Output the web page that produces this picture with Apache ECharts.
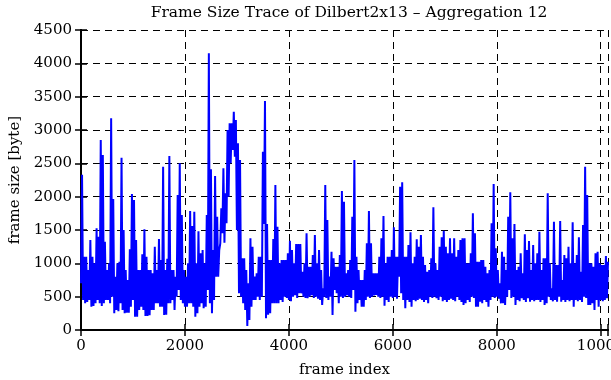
<!DOCTYPE html>
<html>
<head>
<meta charset="utf-8">
<script src="https://cdn.jsdelivr.net/npm/echarts@6/dist/echarts.min.js"></script>
<style>
html,body{margin:0;padding:0;background:#fff;}
#chart{width:611px;height:380px;}
</style>
</head>
<body>
<div id="chart"></div>
<script>
// Trace: for every block of BLOCK frames, the smallest
// (blockLow) and the largest (blockHigh) frame size in bytes seen in that block.
const BLOCK = 40;
const blockHigh = [
  2330,1100,1100,900,1350,1100,1000,1525,1400,2850,
  2625,1325,900,1000,3175,1965,800,1000,1025,2585,
  1500,900,750,1210,2040,1950,1350,900,900,1135,
  1510,1100,900,900,850,1250,900,1365,1050,2450,
  900,1070,2610,900,900,800,2025,2500,1725,900,
  800,1000,1785,1560,1775,1000,1480,1150,1200,1000,
  1725,4150,2410,1200,2310,1700,1200,1825,2425,2050,
  3000,3100,3100,3275,3150,2800,2550,1075,1075,900,
  700,1375,1250,800,850,1100,1100,2675,3435,1590,
  1050,1050,1365,2175,1550,1000,1050,1050,1050,1150,
  1340,1200,1000,1290,1290,1290,875,1000,1450,950,
  950,1125,1425,1000,1200,900,625,2175,1650,800,
  1175,1075,950,950,1125,2085,1925,850,900,1050,
  1700,2550,1100,900,750,750,900,1300,1785,1300,
  850,850,850,1100,1375,1710,1000,1100,1100,1200,
  1540,1100,1100,2150,2215,1100,1100,1275,1465,1000,
  1100,1360,1250,1425,1100,975,875,900,1075,1840,
  1000,900,1250,1390,1490,1250,1150,1375,1150,1375,
  1100,1200,1350,1375,1375,1000,1000,1150,1750,1450,
  1025,1025,1050,1050,950,850,900,1600,2190,1225,
  900,700,1175,1100,900,1700,2065,1375,1590,900,
  950,1150,850,1435,1200,1335,900,1275,1000,1150,
  1475,900,1075,1075,2050,1000,625,1625,975,975,
  1635,750,1125,1075,1250,1000,1615,1000,1125,1390,
  875,1575,2450,2025,1000,1000,950,1150,1175,1000,
  975,975,1110,1025
];
const blockLow = [
  700,450,400,420,450,350,360,400,450,400,
  360,400,450,450,400,500,250,300,280,400,
  300,250,260,260,350,450,200,200,300,350,
  300,210,210,220,300,300,400,400,350,350,
  225,230,400,400,450,300,500,600,450,400,
  350,350,400,400,350,200,250,350,400,325,
  350,600,400,250,450,800,800,1300,1450,1310,
  1600,2000,2500,2700,2600,1500,550,500,400,300,
  60,150,350,450,450,500,450,500,1590,175,
  230,250,400,400,400,400,450,420,500,480,
  450,430,500,520,480,550,550,500,480,475,
  500,520,480,500,470,450,375,500,480,450,
  500,225,600,550,400,500,480,500,520,500,
  480,600,275,400,450,350,350,450,500,480,
  500,520,525,500,480,500,365,450,420,500,
  480,500,470,800,550,450,325,450,420,350,
  450,430,450,470,450,420,450,400,500,480,
  500,475,450,500,430,450,420,450,470,450,
  430,500,450,420,375,400,450,420,500,480,
  350,350,425,400,450,420,350,450,500,480,
  500,470,400,400,375,500,600,480,500,375,
  450,430,475,450,420,475,425,450,430,450,
  450,420,450,375,400,500,450,430,450,425,
  500,425,450,420,450,430,450,350,450,430,
  450,420,500,480,375,375,400,300,450,350,
  450,430,450,475
];
const xTicks = [0, 2000, 4000, 6000, 8000, 10000];
const yTicks = [0, 500, 1000, 1500, 2000, 2500, 3000, 3500, 4000, 4500];
const X_MAX = 10140;
const titleText = 'Frame Size Trace of Dilbert2x13 \u2013 Aggregation 12';
const xName = 'frame index';
const yName = 'frame size [byte]';

const seriesData = [];
blockLow.forEach((lo, i) => {
  seriesData.push([i * BLOCK, lo]);
  seriesData.push([i * BLOCK + BLOCK / 2, blockHigh[i]]);
});

const FONT = '"DejaVu Serif", "Liberation Serif", serif';
const FS = 15;
const dash = { color: '#000', width: 1, type: [7, 5] };
const border = { show: true, lineStyle: { color: '#000', width: 2 } };
const tick = { show: true, inside: true, length: 6, lineStyle: { color: '#000', width: 1.5 } };

const chart = echarts.init(document.getElementById('chart'), null, { renderer: 'canvas' });
chart.setOption({
  animation: false,
  backgroundColor: '#fff',
  title: {
    text: titleText, left: 344, top: 0, textAlign: 'center',
    textStyle: { fontFamily: FONT, fontSize: 15.5, fontWeight: 'normal', color: '#000' }
  },
  grid: { left: 81, right: 3, top: 30, bottom: 50, containLabel: false, outerBoundsMode: 'none' },
  xAxis: [{
    type: 'value', min: 0, max: X_MAX, interval: 2000, position: 'bottom',
    axisLine: border, axisTick: tick,
    axisLabel: {
      fontFamily: FONT, fontSize: FS, color: '#000', margin: 9, hideOverlap: false,
      formatter: v => (xTicks.indexOf(v) >= 0 ? String(v) : '')
    },
    splitLine: { show: true, lineStyle: dash },
    name: xName, nameLocation: 'middle', nameGap: 33,
    nameTextStyle: { fontFamily: FONT, fontSize: FS, color: '#000' }
  }, {
    type: 'value', min: 0, max: X_MAX, interval: 2000, position: 'top',
    axisLine: border, axisTick: tick,
    axisLabel: { show: false }, splitLine: { show: false }
  }],
  yAxis: [{
    type: 'value', min: 0, max: 4500, interval: 500, position: 'left',
    axisLine: border, axisTick: tick,
    axisLabel: {
      fontFamily: FONT, fontSize: FS, color: '#000', margin: 9,
      formatter: v => (yTicks.indexOf(v) >= 0 ? String(v) : '')
    },
    splitLine: { show: true, lineStyle: dash },
    name: yName, nameLocation: 'middle', nameGap: 56, nameRotate: 90,
    nameTextStyle: { fontFamily: FONT, fontSize: FS, color: '#000' }
  }, {
    type: 'value', min: 0, max: 4500, interval: 500, position: 'right',
    axisLine: border, axisTick: tick,
    axisLabel: { show: false }, splitLine: { show: false }
  }],
  series: [{
    type: 'line', data: seriesData, xAxisIndex: 0, yAxisIndex: 0,
    showSymbol: false, symbol: 'none', z: 3,
    lineStyle: { color: '#0000ff', width: 2, join: 'miter' },
    itemStyle: { color: '#0000ff' }
  }]
});
</script>
</body>
</html>
